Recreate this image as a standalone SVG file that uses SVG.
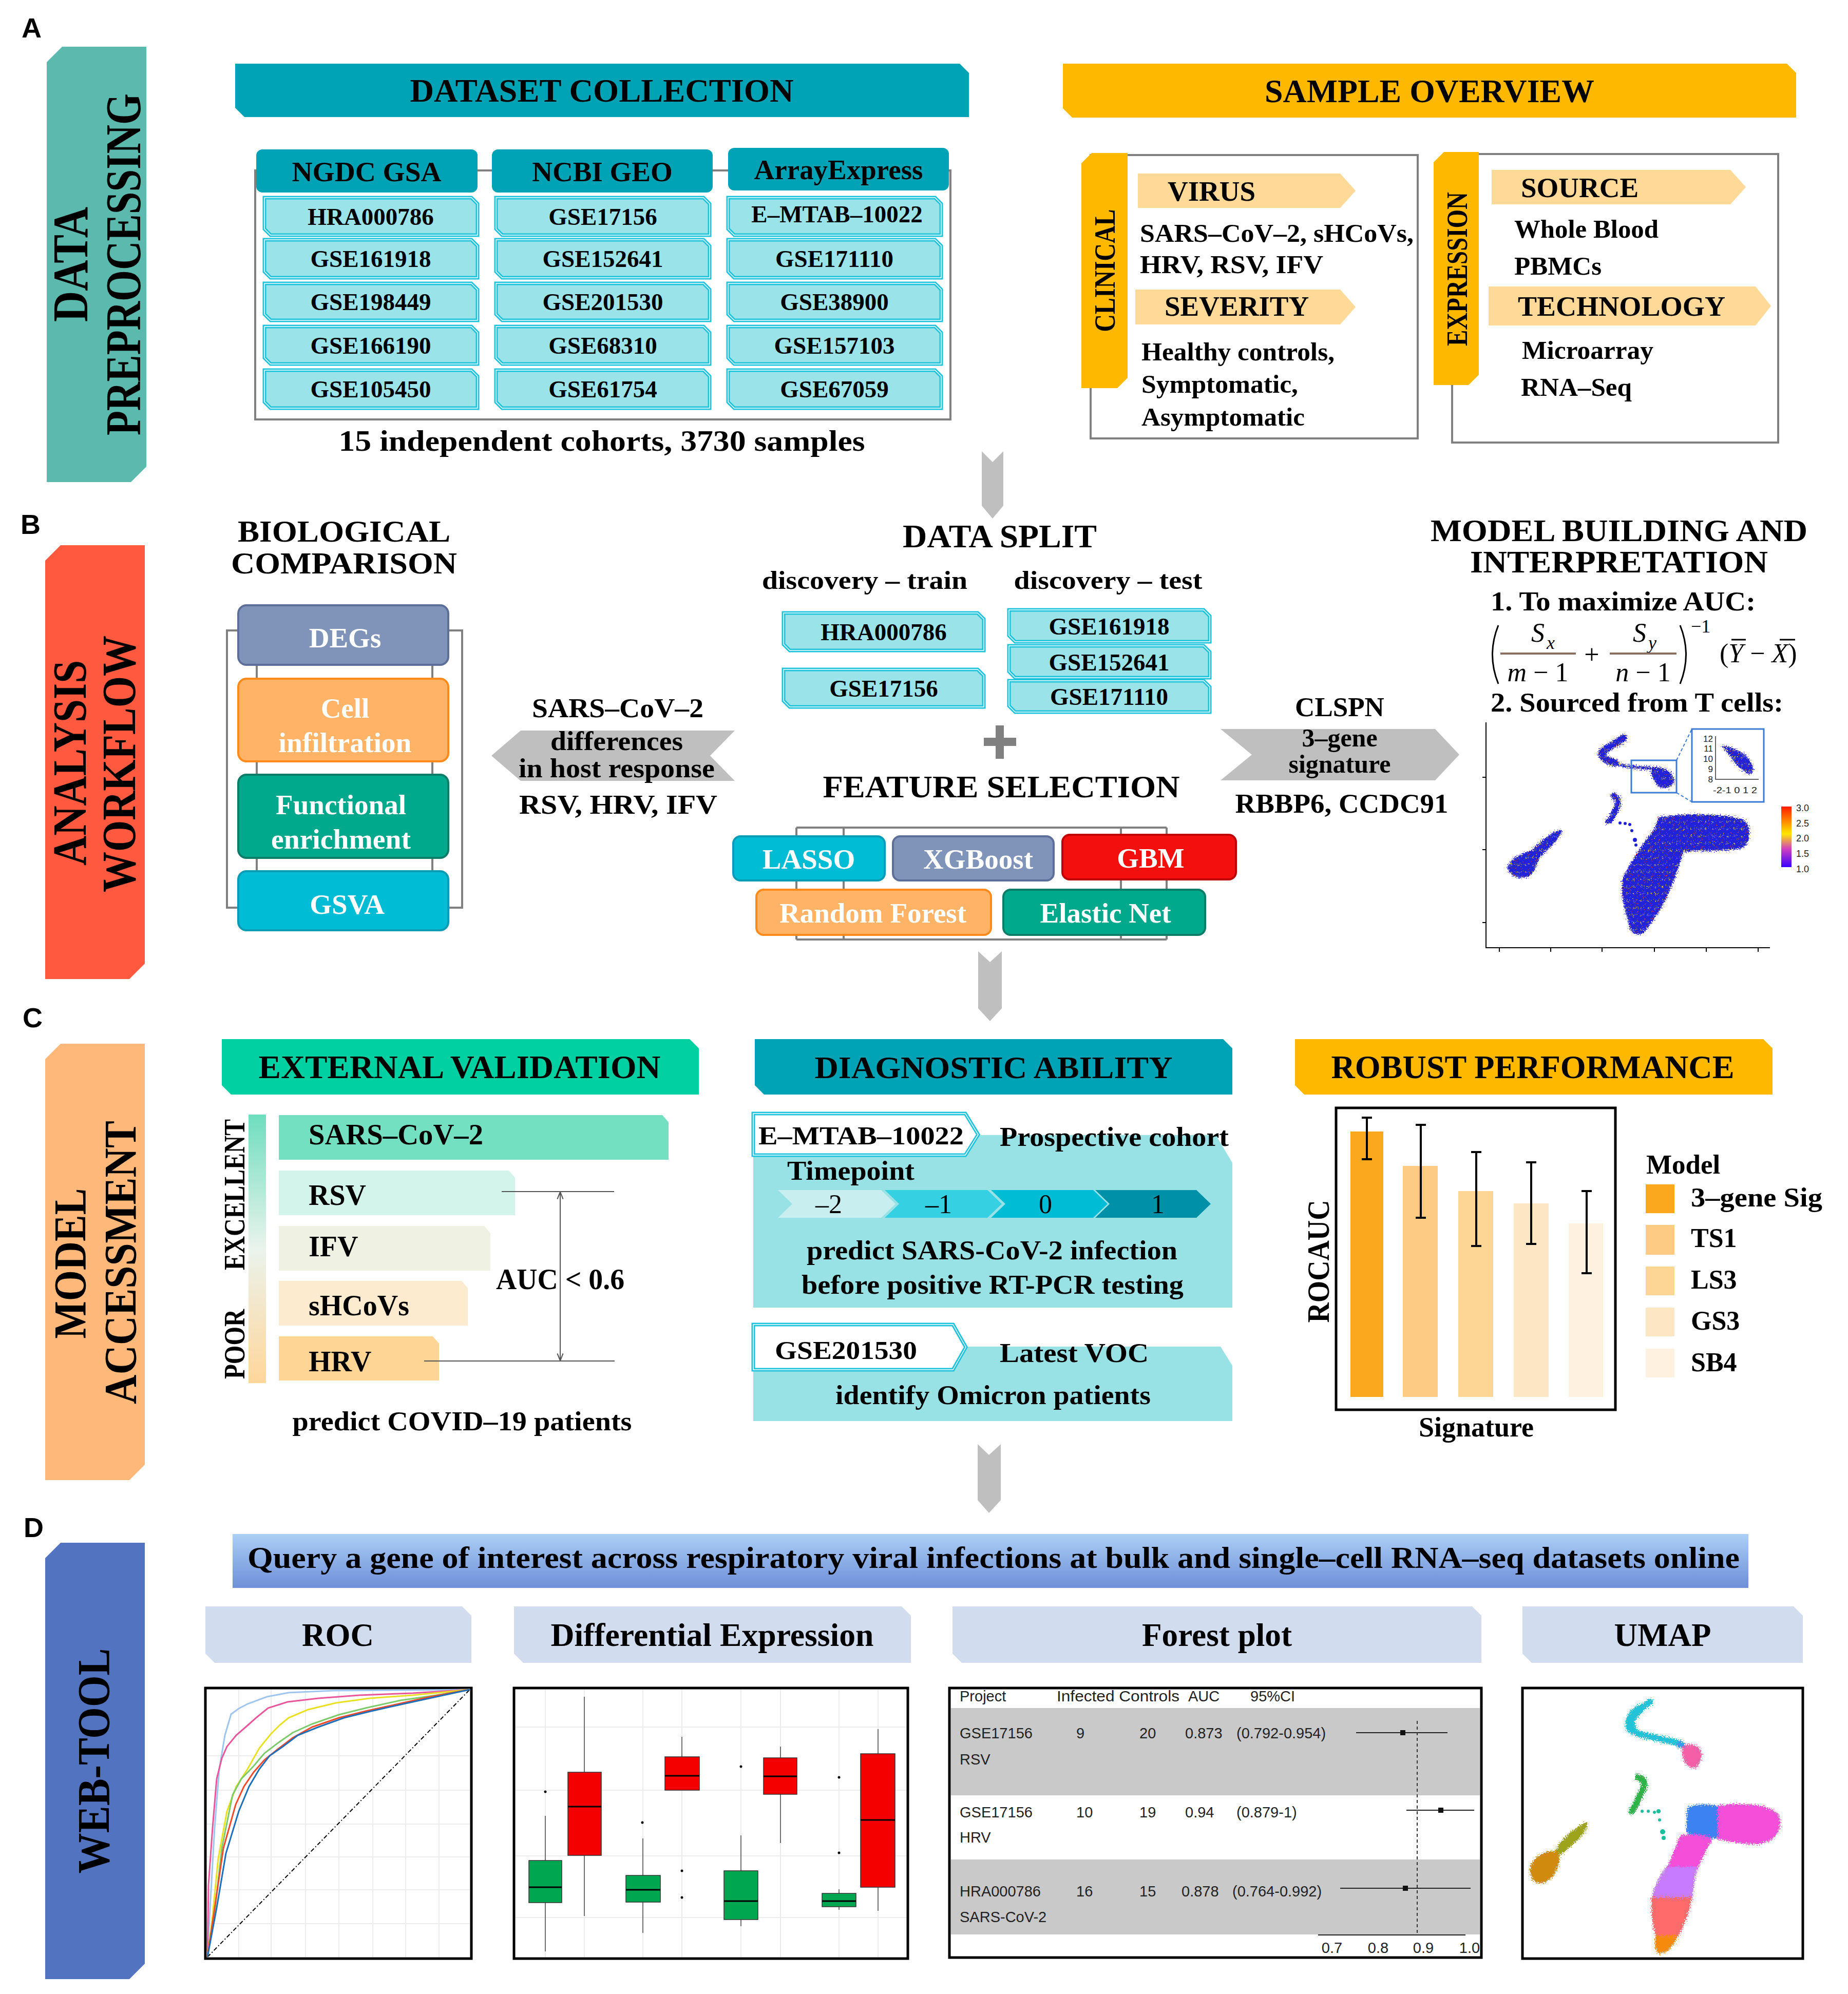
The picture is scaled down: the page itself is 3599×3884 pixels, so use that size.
<svg xmlns="http://www.w3.org/2000/svg" width="3599" height="3884" viewBox="0 0 3599 3884">
<style>
.sb{font-family:"Liberation Serif","Times New Roman",serif;font-weight:bold;fill:#000}
.sn{font-family:"Liberation Serif","Times New Roman",serif;font-weight:normal;fill:#000}
.ss{font-family:"Liberation Sans",Arial,sans-serif;fill:#222}
.lbl{font-family:"Liberation Sans",Arial,sans-serif;font-weight:bold;font-size:54px;fill:#000}
.cell{fill:#9AE3E8;stroke:#1CC3DA;stroke-width:7}
.celli{fill:none;stroke:#fff;stroke-width:1.5}
.frame{fill:#fff;stroke:#808080;stroke-width:4}
.tag{fill:#FFD998}
.gline{stroke:#808080;stroke-width:4;fill:none}
.arr{fill:#BFBFBF}
.wt{fill:#fff}
.grid{stroke:#ECECEC;stroke-width:2}
.plotbox{fill:#fff;stroke:#000;stroke-width:5}
.c{text-anchor:middle}
</style>
<defs>
<linearGradient id="gq" x1="0" y1="0" x2="0" y2="1"><stop offset="0" stop-color="#ABCFF5"/><stop offset="1" stop-color="#6E8ED8"/></linearGradient>
<linearGradient id="gev" x1="0" y1="0" x2="0" y2="1"><stop offset="0" stop-color="#6EDDBE"/><stop offset="0.5" stop-color="#EAF3EC"/><stop offset="1" stop-color="#FFD69B"/></linearGradient>
<linearGradient id="gcb" x1="0" y1="0" x2="0" y2="1"><stop offset="0" stop-color="#FF1A00"/><stop offset="0.25" stop-color="#FF8C00"/><stop offset="0.45" stop-color="#FFE600"/><stop offset="0.7" stop-color="#D040C0"/><stop offset="1" stop-color="#3A00FF"/></linearGradient>
<pattern id="bdots" width="14" height="14" patternUnits="userSpaceOnUse"><rect width="14" height="14" fill="#2020D8"/><circle cx="4" cy="5" r="1.5" fill="#FFE000"/><circle cx="11" cy="11" r="1.1" fill="#FF4020"/><circle cx="10" cy="3" r="0.9" fill="#FFE000"/></pattern>
<filter id="rough" x="-15%" y="-15%" width="130%" height="130%"><feTurbulence type="fractalNoise" baseFrequency="0.5" numOctaves="2" seed="7"/><feDisplacementMap in="SourceGraphic" scale="16" xChannelSelector="R" yChannelSelector="G"/></filter>
<marker id="ah" viewBox="0 0 10 10" refX="9" refY="5" markerWidth="7" markerHeight="7" orient="auto-start-reverse"><path d="M0,1 L10,5 L0,9" fill="none" stroke="#555" stroke-width="1.5"/></marker>
</defs>
<rect width="3599" height="3884" fill="#fff"/>

<!-- Section labels -->
<text class="lbl" x="42" y="73">A</text>
<text class="lbl" x="40" y="1040">B</text>
<text class="lbl" x="44" y="2001">C</text>
<text class="lbl" x="46" y="2994">D</text>

<!-- Side bars -->
<g id="bar-data-preprocessing">
<polygon points="91,121 121,91 285,91 285,909 255,939 91,939" fill="#5CB9AE"/>
<text class="sb c" font-size="98" textLength="224" lengthAdjust="spacingAndGlyphs" transform="translate(170,515) rotate(-90)">DATA</text>
<text class="sb c" font-size="98" textLength="666" lengthAdjust="spacingAndGlyphs" transform="translate(273,515) rotate(-90)">PREPROCESSING</text>
</g>
<g id="bar-analysis-workflow">
<polygon points="88,1092 118,1062 282,1062 282,1877 252,1907 88,1907" fill="#FF5A40"/>
<text class="sb c" font-size="94" textLength="400" lengthAdjust="spacingAndGlyphs" transform="translate(167,1486) rotate(-90)">ANALYSIS</text>
<text class="sb c" font-size="94" textLength="500" lengthAdjust="spacingAndGlyphs" transform="translate(263,1488) rotate(-90)">WORKFLOW</text>
</g>
<g id="bar-model-accessment">
<polygon points="88,2063 118,2033 282,2033 282,2853 252,2883 88,2883" fill="#FDB87A"/>
<text class="sb c" font-size="88" textLength="293" lengthAdjust="spacingAndGlyphs" transform="translate(166,2461) rotate(-90)">MODEL</text>
<text class="sb c" font-size="88" textLength="552" lengthAdjust="spacingAndGlyphs" transform="translate(264,2459) rotate(-90)">ACCESSMENT</text>
</g>
<g id="bar-web-tool">
<polygon points="88,3035 118,3005 282,3005 282,3825 252,3855 88,3855" fill="#5273BF"/>
<text class="sb c" font-size="88" textLength="439" lengthAdjust="spacingAndGlyphs" transform="translate(212,3430) rotate(-90)">WEB-TOOL</text>
</g>

<!-- Connectors -->
<g id="connectors">
<polygon class="arr" points="1912,879 1933,900 1954,879 1954,985 1933,1010 1912,985"/>
<polygon class="arr" points="1905,1853 1928,1874 1951,1853 1951,1964 1928,1989 1905,1964"/>
<polygon class="arr" points="1904,2813 1926,2834 1949,2813 1949,2922 1926,2947 1904,2922"/>
<polygon class="arr" points="957,1472 1014,1423 1431,1423 1383,1472 1431,1521 1014,1521"/>
<polygon class="arr" points="2377,1420 2795,1420 2842,1470 2795,1520 2377,1520 2438,1470"/>
</g>

<!-- A: Dataset collection -->
<g id="dataset-collection">
<polygon points="458,124 1869,124 1887,142 1887,228 476,228 458,210" fill="#00A3B5"/>
<text class="sb c" x="1172" y="198" font-size="63" textLength="747" lengthAdjust="spacingAndGlyphs">DATASET COLLECTION</text>
</g>
<g id="dataset-table">
<rect class="frame" x="497" y="332" width="1354" height="485"/>
<rect x="499" y="291" width="431" height="84" rx="12" fill="#00A3B5"/>
<rect x="958" y="291" width="430" height="84" rx="12" fill="#00A3B5"/>
<rect x="1418" y="288" width="430" height="83" rx="12" fill="#00A3B5"/>
<text class="sb c" x="714" y="353" font-size="55" textLength="291" lengthAdjust="spacingAndGlyphs">NGDC GSA</text>
<text class="sb c" x="1173" y="353" font-size="55">NCBI GEO</text>
<text class="sb c" x="1633" y="349" font-size="55">ArrayExpress</text>
<g font-size="47">
<polygon class="cell" points="515,385 918,385 930,397 930,458 527,458 515,446"/><polygon class="celli" points="515,385 918,385 930,397 930,458 527,458 515,446"/>
<polygon class="cell" points="515,467 918,467 930,479 930,541 527,541 515,529"/><polygon class="celli" points="515,467 918,467 930,479 930,541 527,541 515,529"/>
<polygon class="cell" points="515,552 918,552 930,564 930,624 527,624 515,612"/><polygon class="celli" points="515,552 918,552 930,564 930,624 527,624 515,612"/>
<polygon class="cell" points="515,636 918,636 930,648 930,709 527,709 515,697"/><polygon class="celli" points="515,636 918,636 930,648 930,709 527,709 515,697"/>
<polygon class="cell" points="515,721 918,721 930,733 930,795 527,795 515,783"/><polygon class="celli" points="515,721 918,721 930,733 930,795 527,795 515,783"/>
<polygon class="cell" points="966,385 1370,385 1382,397 1382,458 978,458 966,446"/><polygon class="celli" points="966,385 1370,385 1382,397 1382,458 978,458 966,446"/>
<polygon class="cell" points="966,467 1370,467 1382,479 1382,541 978,541 966,529"/><polygon class="celli" points="966,467 1370,467 1382,479 1382,541 978,541 966,529"/>
<polygon class="cell" points="966,552 1370,552 1382,564 1382,624 978,624 966,612"/><polygon class="celli" points="966,552 1370,552 1382,564 1382,624 978,624 966,612"/>
<polygon class="cell" points="966,636 1370,636 1382,648 1382,709 978,709 966,697"/><polygon class="celli" points="966,636 1370,636 1382,648 1382,709 978,709 966,697"/>
<polygon class="cell" points="966,721 1370,721 1382,733 1382,795 978,795 966,783"/><polygon class="celli" points="966,721 1370,721 1382,733 1382,795 978,795 966,783"/>
<polygon class="cell" points="1418,385 1821,385 1833,397 1833,458 1430,458 1418,446"/><polygon class="celli" points="1418,385 1821,385 1833,397 1833,458 1430,458 1418,446"/>
<polygon class="cell" points="1418,467 1821,467 1833,479 1833,541 1430,541 1418,529"/><polygon class="celli" points="1418,467 1821,467 1833,479 1833,541 1430,541 1418,529"/>
<polygon class="cell" points="1418,552 1821,552 1833,564 1833,624 1430,624 1418,612"/><polygon class="celli" points="1418,552 1821,552 1833,564 1833,624 1430,624 1418,612"/>
<polygon class="cell" points="1418,636 1821,636 1833,648 1833,709 1430,709 1418,697"/><polygon class="celli" points="1418,636 1821,636 1833,648 1833,709 1430,709 1418,697"/>
<polygon class="cell" points="1418,721 1821,721 1833,733 1833,795 1430,795 1418,783"/><polygon class="celli" points="1418,721 1821,721 1833,733 1833,795 1430,795 1418,783"/>
<text class="sb c" x="722" y="438">HRA000786</text>
<text class="sb c" x="722" y="520">GSE161918</text>
<text class="sb c" x="722" y="604">GSE198449</text>
<text class="sb c" x="722" y="689">GSE166190</text>
<text class="sb c" x="722" y="774">GSE105450</text>
<text class="sb c" x="1174" y="438">GSE17156</text>
<text class="sb c" x="1174" y="520">GSE152641</text>
<text class="sb c" x="1174" y="604">GSE201530</text>
<text class="sb c" x="1174" y="689">GSE68310</text>
<text class="sb c" x="1174" y="774">GSE61754</text>
<text class="sb c" x="1630" y="433">E–MTAB–10022</text>
<text class="sb c" x="1625" y="520">GSE171110</text>
<text class="sb c" x="1625" y="604">GSE38900</text>
<text class="sb c" x="1625" y="689">GSE157103</text>
<text class="sb c" x="1625" y="774">GSE67059</text>
</g>
<text class="sb c" x="1172" y="878" font-size="57" textLength="1025" lengthAdjust="spacingAndGlyphs">15 independent cohorts, 3730 samples</text>
</g>

<!-- A: Sample overview -->
<g id="sample-overview">
<polygon points="2070,124 3480,124 3498,142 3498,229 2088,229 2070,211" fill="#FFB800"/>
<text class="sb c" x="2784" y="199" font-size="63" textLength="642" lengthAdjust="spacingAndGlyphs">SAMPLE OVERVIEW</text>
</g>
<g id="clinical">
<rect class="frame" x="2124" y="302" width="637" height="552"/>
<polygon points="2106,318 2126,298 2196,298 2196,736 2176,756 2106,756" fill="#FFB800"/>
<text class="sb c" font-size="57" textLength="239" lengthAdjust="spacingAndGlyphs" transform="translate(2171,527) rotate(-90)">CLINICAL</text>
<polygon class="tag" points="2216,338 2610,338 2640,371.5 2610,405 2216,405"/>
<text class="sb" x="2274" y="391" font-size="55">VIRUS</text>
<text class="sb" x="2220" y="471" font-size="51" textLength="533" lengthAdjust="spacingAndGlyphs">SARS–CoV–2, sHCoVs,</text>
<text class="sb" x="2220" y="532" font-size="51" textLength="357" lengthAdjust="spacingAndGlyphs">HRV, RSV, IFV</text>
<polygon class="tag" points="2211,564 2610,564 2640,598 2610,632 2211,632"/>
<text class="sb" x="2268" y="615" font-size="55">SEVERITY</text>
<text class="sb" x="2223" y="702" font-size="51" textLength="376" lengthAdjust="spacingAndGlyphs">Healthy controls,</text>
<text class="sb" x="2223" y="765" font-size="51" textLength="305" lengthAdjust="spacingAndGlyphs">Symptomatic,</text>
<text class="sb" x="2223" y="829" font-size="51" textLength="318" lengthAdjust="spacingAndGlyphs">Asymptomatic</text>
</g>
<g id="expression">
<rect class="frame" x="2828" y="300" width="635" height="562"/>
<polygon points="2792,316 2812,296 2880,296 2880,730 2860,750 2792,750" fill="#FFB800"/>
<text class="sb c" font-size="57" textLength="300" lengthAdjust="spacingAndGlyphs" transform="translate(2857,524) rotate(-90)">EXPRESSION</text>
<polygon class="tag" points="2905,331 3370,331 3400,364.5 3370,398 2905,398"/>
<text class="sb" x="2962" y="384" font-size="55">SOURCE</text>
<text class="sb" x="2949" y="463" font-size="51" textLength="281" lengthAdjust="spacingAndGlyphs">Whole Blood</text>
<text class="sb" x="2949" y="535" font-size="51" textLength="170" lengthAdjust="spacingAndGlyphs">PBMCs</text>
<polygon class="tag" points="2899,558 3419,558 3449,596 3419,634 2899,634"/>
<text class="sb" x="2956" y="615" font-size="55" textLength="404" lengthAdjust="spacingAndGlyphs">TECHNOLOGY</text>
<text class="sb" x="2964" y="699" font-size="51" textLength="256" lengthAdjust="spacingAndGlyphs">Microarray</text>
<text class="sb" x="2962" y="771" font-size="51" textLength="216" lengthAdjust="spacingAndGlyphs">RNA–Seq</text>
</g>

<!-- B: Biological comparison -->
<g id="biological-comparison">
<text class="sb c" x="670" y="1055" font-size="60" textLength="414" lengthAdjust="spacingAndGlyphs">BIOLOGICAL</text>
<text class="sb c" x="670" y="1117" font-size="60" textLength="440" lengthAdjust="spacingAndGlyphs">COMPARISON</text>
<rect class="gline" x="442" y="1228" width="458" height="540"/>
<line class="gline" x1="500" y1="1295" x2="500" y2="1697"/>
<line class="gline" x1="842" y1="1295" x2="842" y2="1697"/>
</g>
<g id="degs"><rect x="464" y="1179" width="409" height="116" rx="16" fill="#8094BA" stroke="#5D6F98" stroke-width="4"/><text class="sb c wt" x="672" y="1261" font-size="55">DEGs</text></g>
<g id="cell-infiltration"><rect x="464" y="1322" width="409" height="161" rx="16" fill="#FFB366" stroke="#FF8A1C" stroke-width="4"/><text class="sb c wt" x="672" y="1398" font-size="55">Cell</text><text class="sb c wt" x="672" y="1465" font-size="55" textLength="259" lengthAdjust="spacingAndGlyphs">infiltration</text></g>
<g id="functional-enrichment"><rect x="464" y="1509" width="409" height="162" rx="16" fill="#00A88C" stroke="#0B7D69" stroke-width="4"/><text class="sb c wt" x="664" y="1586" font-size="55" textLength="254" lengthAdjust="spacingAndGlyphs">Functional</text><text class="sb c wt" x="664" y="1653" font-size="55" textLength="272" lengthAdjust="spacingAndGlyphs">enrichment</text></g>
<g id="gsva"><rect x="464" y="1697" width="409" height="115" rx="16" fill="#00BCD4" stroke="#0A9CB4" stroke-width="4"/><text class="sb c wt" x="676" y="1780" font-size="55">GSVA</text></g>
<g id="differences-label">
<text class="sb c" x="1203" y="1397" font-size="53" textLength="334" lengthAdjust="spacingAndGlyphs">SARS–CoV–2</text>
<text class="sb c" x="1201" y="1461" font-size="53" textLength="258" lengthAdjust="spacingAndGlyphs">differences</text>
<text class="sb c" x="1201" y="1514" font-size="53" textLength="382" lengthAdjust="spacingAndGlyphs">in host response</text>
<text class="sb c" x="1204" y="1585" font-size="53" textLength="386" lengthAdjust="spacingAndGlyphs">RSV, HRV, IFV</text>
</g>

<!-- B: Data split -->
<g id="data-split">
<text class="sb c" x="1947" y="1066" font-size="63" textLength="378" lengthAdjust="spacingAndGlyphs">DATA SPLIT</text>
<text class="sb c" x="1684" y="1147" font-size="51" textLength="400" lengthAdjust="spacingAndGlyphs">discovery – train</text>
<text class="sb c" x="2158" y="1147" font-size="51" textLength="367" lengthAdjust="spacingAndGlyphs">discovery – test</text>
<g font-size="47">
<polygon class="cell" points="1526,1194 1904,1194 1916,1206 1916,1267 1538,1267 1526,1255"/><polygon class="celli" points="1526,1194 1904,1194 1916,1206 1916,1267 1538,1267 1526,1255"/>
<polygon class="cell" points="1526,1304 1904,1304 1916,1316 1916,1377 1538,1377 1526,1365"/><polygon class="celli" points="1526,1304 1904,1304 1916,1316 1916,1377 1538,1377 1526,1365"/>
<polygon class="cell" points="1965,1188 2344,1188 2356,1200 2356,1250 1977,1250 1965,1238"/><polygon class="celli" points="1965,1188 2344,1188 2356,1200 2356,1250 1977,1250 1965,1238"/>
<polygon class="cell" points="1965,1258 2344,1258 2356,1270 2356,1320 1977,1320 1965,1308"/><polygon class="celli" points="1965,1258 2344,1258 2356,1270 2356,1320 1977,1320 1965,1308"/>
<polygon class="cell" points="1965,1326 2344,1326 2356,1338 2356,1387 1977,1387 1965,1375"/><polygon class="celli" points="1965,1326 2344,1326 2356,1338 2356,1387 1977,1387 1965,1375"/>
<text class="sb c" x="1721" y="1247">HRA000786</text>
<text class="sb c" x="1721" y="1357">GSE17156</text>
<text class="sb c" x="2160" y="1236">GSE161918</text>
<text class="sb c" x="2160" y="1306">GSE152641</text>
<text class="sb c" x="2160" y="1373">GSE171110</text>
</g>
<path d="M1939,1413 h16 v24 h24 v16 h-24 v25 h-16 v-25 h-23 v-16 h23 z" fill="#808080"/>
</g>

<!-- B: Feature selection -->
<g id="feature-selection">
<text class="sb c" x="1950" y="1553" font-size="62" textLength="695" lengthAdjust="spacingAndGlyphs">FEATURE SELECTION</text>
<path class="gline" d="M1551,1612 H2272 M1551,1830 H2272 M1551,1612 V1830 M1643,1612 V1830 M2183,1612 V1830 M2272,1612 V1830"/>
</g>
<g id="lasso"><rect x="1428" y="1629" width="295" height="86" rx="14" fill="#00BCD4" stroke="#0A9CB4" stroke-width="4"/><text class="sb c wt" x="1575" y="1692" font-size="55">LASSO</text></g>
<g id="xgboost"><rect x="1739" y="1629" width="313" height="86" rx="14" fill="#8094BA" stroke="#5D6F98" stroke-width="4"/><text class="sb c wt" x="1905" y="1692" font-size="55">XGBoost</text></g>
<g id="gbm"><rect x="2069" y="1626" width="338" height="87" rx="14" fill="#F40F0F" stroke="#C00000" stroke-width="4"/><text class="sb c wt" x="2241" y="1690" font-size="55">GBM</text></g>
<g id="random-forest"><rect x="1473" y="1733" width="457" height="88" rx="14" fill="#FFB366" stroke="#FF8A1C" stroke-width="4"/><text class="sb c wt" x="1700" y="1797" font-size="55">Random Forest</text></g>
<g id="elastic-net"><rect x="1954" y="1733" width="393" height="88" rx="14" fill="#00A88C" stroke="#0B7D69" stroke-width="4"/><text class="sb c wt" x="2153" y="1797" font-size="55">Elastic Net</text></g>
<g id="signature-label">
<text class="sb c" x="2609" y="1395" font-size="53">CLSPN</text>
<text class="sb c" x="2609" y="1454" font-size="50">3–gene</text>
<text class="sb c" x="2609" y="1505" font-size="50">signature</text>
<text class="sb c" x="2613" y="1583" font-size="53" textLength="415" lengthAdjust="spacingAndGlyphs">RBBP6, CCDC91</text>
</g>

<!-- B: Model building -->
<g id="model-building">
<text class="sb c" x="3153" y="1054" font-size="62" textLength="734" lengthAdjust="spacingAndGlyphs">MODEL BUILDING AND</text>
<text class="sb c" x="3153" y="1115" font-size="62" textLength="580" lengthAdjust="spacingAndGlyphs">INTERPRETATION</text>
<text class="sb" x="2903" y="1189" font-size="53" textLength="516" lengthAdjust="spacingAndGlyphs">1. To maximize AUC:</text>
<g class="sn" font-size="52">
<path d="M2918,1218 Q2895,1275 2918,1332" fill="none" stroke="#000" stroke-width="3"/>
<path d="M3272,1218 Q3295,1275 3272,1332" fill="none" stroke="#000" stroke-width="3"/>
<text x="2982" y="1250" font-style="italic">S</text><text x="3012" y="1264" font-size="36" font-style="italic">x</text>
<line x1="2922" y1="1273" x2="3069" y2="1273" stroke="#8C6E63" stroke-width="4"/>
<text class="c" x="2995" y="1327"><tspan font-style="italic">m</tspan> − 1</text>
<text class="c" x="3100" y="1292">+</text>
<text x="3180" y="1250" font-style="italic">S</text><text x="3210" y="1264" font-size="36" font-style="italic">y</text>
<line x1="3135" y1="1273" x2="3265" y2="1273" stroke="#8C6E63" stroke-width="4"/>
<text class="c" x="3200" y="1327"><tspan font-style="italic">n</tspan> − 1</text>
<text x="3293" y="1232" font-size="36">−1</text>
<text x="3349" y="1290">(<tspan font-style="italic">Y</tspan> − <tspan font-style="italic">X</tspan>)</text>
<line x1="3372" y1="1246" x2="3400" y2="1246" stroke="#000" stroke-width="3"/>
<line x1="3466" y1="1246" x2="3496" y2="1246" stroke="#000" stroke-width="3"/>
</g>
<text class="sb" x="2903" y="1386" font-size="53" textLength="570" lengthAdjust="spacingAndGlyphs">2. Sourced from T cells:</text>
</g>
<g id="tcell-umap">
<path d="M2894,1407 V1846 H3447" fill="none" stroke="#000" stroke-width="2"/>
<path d="M2920,1846 v8 M3020,1846 v8 M3120,1846 v8 M3222,1846 v8 M3323,1846 v8 M3424,1846 v8 M2894,1514 h-7 M2894,1655 h-7 M2894,1797 h-7" stroke="#000" stroke-width="2"/>
<g filter="url(#rough)">
<path d="M3162,1437 C3150,1448 3128,1455 3120,1466 C3118,1476 3132,1482 3145,1486" fill="none" stroke="url(#bdots)" stroke-width="14" stroke-linecap="round"/>
<path d="M3145,1488 C3165,1492 3185,1496 3215,1496" fill="none" stroke="url(#bdots)" stroke-width="5" stroke-linecap="round"/>
<path d="M3215,1494 C3240,1492 3262,1505 3260,1522 C3256,1535 3240,1540 3228,1530 C3220,1520 3215,1508 3215,1494 Z" fill="url(#bdots)"/>
<path d="M3142,1550 C3155,1555 3152,1570 3145,1580 C3140,1590 3138,1598 3132,1600" fill="none" stroke="url(#bdots)" stroke-width="11" stroke-linecap="round"/>
<path d="M3041,1616 C3045,1626 3020,1650 3000,1668 C2992,1680 2992,1700 2975,1708 C2955,1714 2936,1702 2937,1690 C2939,1674 2960,1664 2983,1656 C3000,1640 3020,1620 3041,1616 Z" fill="url(#bdots)"/>
<path d="M3230,1592 C3290,1582 3360,1586 3395,1596 C3412,1606 3412,1645 3390,1653 C3350,1660 3300,1655 3278,1660 C3265,1700 3250,1760 3200,1818 C3185,1824 3172,1815 3172,1797 C3162,1765 3156,1738 3160,1712 C3175,1680 3200,1642 3222,1615 Z" fill="url(#bdots)"/>
<path d="M3352,1452 C3375,1455 3400,1465 3412,1488 C3418,1505 3410,1512 3400,1505 C3390,1495 3378,1490 3372,1475 Z" fill="url(#bdots)"/>
</g>
<g fill="#2020D8"><circle cx="3155" cy="1603" r="3"/><circle cx="3165" cy="1604" r="3"/><circle cx="3174" cy="1606" r="3"/><circle cx="3178" cy="1618" r="3"/><circle cx="3184" cy="1636" r="4"/><circle cx="3186" cy="1646" r="3"/></g>
<rect x="3177" y="1481" width="88" height="63" fill="none" stroke="#3A7BD5" stroke-width="3"/>
<rect x="3295" y="1420" width="140" height="142" fill="none" stroke="#3A7BD5" stroke-width="3"/>
<path d="M3265,1481 L3295,1420 M3265,1544 L3295,1562" stroke="#3A7BD5" stroke-width="2" stroke-dasharray="6,4"/>
<path d="M3341,1434 V1518 H3425" fill="none" stroke="#333" stroke-width="1.5"/>
<g class="ss" font-size="17" text-anchor="end"><text x="3336" y="1445">12</text><text x="3336" y="1464">11</text><text x="3336" y="1484">10</text><text x="3336" y="1504">9</text><text x="3336" y="1524">8</text></g>
<text class="ss" x="3336" y="1545" font-size="17" textLength="86" lengthAdjust="spacingAndGlyphs">-2-1 0 1 2</text>
<rect x="3469" y="1571" width="20" height="118" fill="url(#gcb)"/>
<g class="ss" font-size="18"><text x="3498" y="1580">3.0</text><text x="3498" y="1610">2.5</text><text x="3498" y="1639">2.0</text><text x="3498" y="1669">1.5</text><text x="3498" y="1699">1.0</text></g>
</g>

<!-- C: External validation -->
<g id="external-validation">
<polygon points="432,2024 1343,2024 1361,2042 1361,2132 450,2132 432,2114" fill="#00D0A2"/>
<text class="sb c" x="895" y="2100" font-size="63" textLength="783" lengthAdjust="spacingAndGlyphs">EXTERNAL VALIDATION</text>
<rect x="484" y="2171" width="34" height="523" fill="url(#gev)"/>
<text class="sb c" font-size="56" textLength="294" lengthAdjust="spacingAndGlyphs" transform="translate(476,2327) rotate(-90)">EXCELLENT</text>
<text class="sb c" font-size="56" textLength="136" lengthAdjust="spacingAndGlyphs" transform="translate(476,2618) rotate(-90)">POOR</text>
<polygon points="543,2172 1290,2172 1302,2186 1302,2259 543,2259" fill="#73E0C1"/>
<polygon points="543,2280 991,2280 1003,2294 1003,2367 543,2367" fill="#D3F4EA"/>
<polygon points="543,2388 943,2388 955,2402 955,2475 543,2475" fill="#EFF1E2"/>
<polygon points="543,2495 899,2495 911,2509 911,2582 543,2582" fill="#FDEBD0"/>
<polygon points="543,2603 843,2603 855,2617 855,2689 543,2689" fill="#FFD595"/>
<g class="sb" font-size="56">
<text x="601" y="2229" textLength="340" lengthAdjust="spacingAndGlyphs">SARS–CoV–2</text>
<text x="601" y="2347">RSV</text>
<text x="601" y="2447">IFV</text>
<text x="601" y="2562">sHCoVs</text>
<text x="601" y="2671">HRV</text>
</g>
<path d="M977,2321 H1196 M826,2651 H1197" stroke="#555" stroke-width="2"/>
<line x1="1091" y1="2323" x2="1091" y2="2649" stroke="#555" stroke-width="2" marker-start="url(#ah)" marker-end="url(#ah)"/>
<text class="sb c" x="1091" y="2511" font-size="56" textLength="250" lengthAdjust="spacingAndGlyphs">AUC &lt; 0.6</text>
<text class="sb c" x="900" y="2786" font-size="53" textLength="661" lengthAdjust="spacingAndGlyphs">predict COVID–19 patients</text>
</g>

<!-- C: Diagnostic ability -->
<g id="diagnostic-ability">
<polygon points="1470,2024 2382,2024 2400,2042 2400,2132 1488,2132 1470,2114" fill="#00A3B5"/>
<text class="sb c" x="1935" y="2100" font-size="62" textLength="697" lengthAdjust="spacingAndGlyphs">DIAGNOSTIC ABILITY</text>
</g>
<g id="prospective-cohort">
<path d="M1467,2211 L2368,2211 L2400,2265 L2400,2547 L1467,2547 Z" fill="#98E2E6"/>
<polygon points="1467,2169 1880,2169 1905,2210 1880,2250 1467,2250" fill="#fff" stroke="#1CC3DA" stroke-width="7"/>
<polygon points="1467,2169 1880,2169 1905,2210 1880,2250 1467,2250" fill="none" stroke="#fff" stroke-width="1.5"/>
<text class="sb" x="1477" y="2229" font-size="50" textLength="400" lengthAdjust="spacingAndGlyphs">E–MTAB–10022</text>
<text class="sb" x="1947" y="2232" font-size="53" textLength="446" lengthAdjust="spacingAndGlyphs">Prospective cohort</text>
<text class="sb" x="1533" y="2298" font-size="53" textLength="248" lengthAdjust="spacingAndGlyphs">Timepoint</text>
<polygon points="1515,2318 1716,2318 1744,2345 1716,2372 1515,2372 1543,2345" fill="#C8EEF0"/>
<polygon points="1723,2318 1923,2318 1951,2345 1923,2372 1723,2372 1751,2345" fill="#36D0E3"/>
<polygon points="1930,2318 2129,2318 2157,2345 2129,2372 1930,2372 1958,2345" fill="#00BCD4"/>
<polygon points="2133,2318 2330,2318 2358,2345 2330,2372 2133,2372 2161,2345" fill="#0090A8"/>
<g class="sn c" font-size="52"><text x="1614" y="2363">–2</text><text x="1828" y="2363">–1</text><text x="2036" y="2363">0</text><text x="2255" y="2363">1</text></g>
<text class="sb c" x="1932" y="2453" font-size="53" textLength="722" lengthAdjust="spacingAndGlyphs">predict SARS-CoV-2 infection</text>
<text class="sb c" x="1933" y="2520" font-size="53" textLength="744" lengthAdjust="spacingAndGlyphs">before positive RT-PCR testing</text>
</g>
<g id="latest-voc">
<path d="M1467,2623 L2377,2623 L2400,2660 L2400,2768 L1467,2768 Z" fill="#98E2E6"/>
<polygon points="1467,2580 1856,2580 1881,2624 1856,2668 1467,2668" fill="#fff" stroke="#1CC3DA" stroke-width="7"/>
<polygon points="1467,2580 1856,2580 1881,2624 1856,2668 1467,2668" fill="none" stroke="#fff" stroke-width="1.5"/>
<text class="sb" x="1509" y="2647" font-size="50" textLength="277" lengthAdjust="spacingAndGlyphs">GSE201530</text>
<text class="sb" x="1947" y="2653" font-size="53" textLength="290" lengthAdjust="spacingAndGlyphs">Latest VOC</text>
<text class="sb c" x="1934" y="2735" font-size="53" textLength="614" lengthAdjust="spacingAndGlyphs">identify Omicron patients</text>
</g>

<!-- C: Robust performance -->
<g id="robust-performance">
<polygon points="2522,2024 3434,2024 3452,2042 3452,2132 2540,2132 2522,2114" fill="#FFB800"/>
<text class="sb c" x="2985" y="2100" font-size="63" textLength="785" lengthAdjust="spacingAndGlyphs">ROBUST PERFORMANCE</text>
<rect x="2602" y="2158" width="544" height="588" fill="#fff" stroke="#000" stroke-width="5"/>
<rect x="2630" y="2204" width="64" height="517" fill="#FBA81F"/>
<rect x="2732" y="2271" width="68" height="450" fill="#FDCB84"/>
<rect x="2840" y="2320" width="68" height="401" fill="#FDD594"/>
<rect x="2948" y="2344" width="68" height="377" fill="#FDE6C3"/>
<rect x="3055" y="2383" width="67" height="338" fill="#FEF1E0"/>
<path d="M2662,2177 V2258 M2652,2177 h20 M2652,2258 h20 M2767,2191 V2372 M2757,2191 h20 M2757,2372 h20 M2875,2244 V2427 M2865,2244 h20 M2865,2427 h20 M2982,2264 V2423 M2972,2264 h20 M2972,2423 h20 M3090,2320 V2480 M3080,2320 h20 M3080,2480 h20" stroke="#000" stroke-width="4" fill="none"/>
<text class="sb c" font-size="62" textLength="239" lengthAdjust="spacingAndGlyphs" transform="translate(2588,2457) rotate(-90)">ROCAUC</text>
<text class="sb c" x="2875" y="2798" font-size="54">Signature</text>
<text class="sb" x="3206" y="2286" font-size="53">Model</text>
<rect x="3205" y="2307" width="56" height="56" fill="#FBA81F"/>
<rect x="3205" y="2386" width="56" height="58" fill="#FDCB84"/>
<rect x="3205" y="2467" width="56" height="56" fill="#FDD594"/>
<rect x="3205" y="2547" width="56" height="56" fill="#FDE6C3"/>
<rect x="3205" y="2627" width="56" height="56" fill="#FEF1E0"/>
<g class="sb" font-size="52"><text x="3293" y="2350" textLength="256" lengthAdjust="spacingAndGlyphs">3–gene Sig</text><text x="3293" y="2429">TS1</text><text x="3293" y="2510">LS3</text><text x="3293" y="2590">GS3</text><text x="3293" y="2671">SB4</text></g>
</g>

<!-- D: Web tool -->
<g id="query-banner">
<rect x="453" y="2988" width="2952" height="105" fill="url(#gq)"/>
<text class="sb c" x="1935" y="3054" font-size="60" textLength="2906" lengthAdjust="spacingAndGlyphs">Query a gene of interest across respiratory viral infections at bulk and single–cell RNA–seq datasets online</text>
</g>
<g id="roc">
<polygon points="400,3129 900,3129 918,3147 918,3239 418,3239 400,3221" fill="#D2DCEF"/>
<text class="sb c" x="658" y="3206" font-size="63">ROC</text>
<rect class="plotbox" x="400" y="3288" width="518" height="527"/>
<path class="grid" d="M465,3291 V3812 M528,3291 V3812 M595,3291 V3812 M660,3291 V3812 M726,3291 V3812 M790,3291 V3812 M855,3291 V3812 M403,3420 H915 M403,3487 H915 M403,3553 H915 M403,3617 H915 M403,3681 H915 M403,3747 H915"/>
<line x1="404" y1="3812" x2="915" y2="3291" stroke="#000" stroke-width="2" stroke-dasharray="8,4,2,4"/>
<g fill="none" stroke-width="3">
<path stroke="#9EC5EE" d="M404,3807 L410,3700 L418,3560 L427,3446 L438,3380 L450,3339 L465,3328 L482,3319 L520,3305 L562,3297 L650,3293 L804,3292 L915,3291"/>
<path stroke="#E8559A" d="M404,3812 L406,3672 L414,3560 L422,3465 L432,3425 L442,3402 L460,3380 L482,3361 L500,3345 L522,3327 L560,3315 L620,3308 L700,3302 L804,3298 L915,3291"/>
<path stroke="#E8E020" d="M404,3812 L413,3741 L425,3620 L442,3528 L460,3480 L482,3446 L505,3405 L528,3377 L545,3360 L562,3346 L600,3330 L654,3317 L720,3308 L804,3302 L915,3291"/>
<path stroke="#7CCB6A" d="M404,3812 L419,3716 L432,3600 L453,3496 L470,3465 L494,3440 L515,3415 L540,3396 L570,3375 L608,3358 L660,3340 L712,3327 L780,3312 L850,3302 L915,3291"/>
<path stroke="#F04A2A" d="M404,3812 L419,3710 L435,3600 L459,3515 L475,3480 L494,3452 L515,3428 L540,3408 L570,3385 L608,3364 L660,3346 L712,3333 L780,3318 L838,3305 L915,3291"/>
<path stroke="#1F6FB8" d="M404,3812 L422,3716 L440,3610 L465,3528 L485,3480 L505,3446 L525,3420 L551,3402 L580,3380 L620,3364 L670,3346 L723,3333 L790,3318 L850,3305 L915,3291"/>
</g>
</g>
<g id="differential-expression">
<polygon points="1001,3129 1756,3129 1774,3147 1774,3239 1019,3239 1001,3221" fill="#D2DCEF"/>
<text class="sb c" x="1387" y="3206" font-size="63" textLength="629" lengthAdjust="spacingAndGlyphs">Differential Expression</text>
<rect class="plotbox" x="1001" y="3288" width="767" height="527"/>
<path class="grid" d="M1004,3364 H1765 M1004,3487 H1765 M1004,3615 H1765 M1004,3735 H1765 M1062,3291 V3812 M1138,3291 V3812 M1252,3291 V3812 M1328,3291 V3812 M1443,3291 V3812 M1520,3291 V3812 M1634,3291 V3812 M1710,3291 V3812"/>
<path d="M1062,3537 V3801 M1138,3305 V3732 M1252,3581 V3765 M1328,3383 V3487 M1443,3575 V3752 M1520,3402 V3590 M1634,3680 V3720 M1710,3368 V3722" stroke="#444" stroke-width="1.5"/>
<g stroke="#333" stroke-width="1.5">
<rect x="1030" y="3624" width="64" height="82" fill="#00A650"/>
<rect x="1106" y="3452" width="65" height="162" fill="#F50000"/>
<rect x="1219" y="3653" width="67" height="52" fill="#00A650"/>
<rect x="1295" y="3422" width="67" height="65" fill="#F50000"/>
<rect x="1410" y="3644" width="66" height="95" fill="#00A650"/>
<rect x="1487" y="3424" width="65" height="71" fill="#F50000"/>
<rect x="1601" y="3688" width="66" height="26" fill="#00A650"/>
<rect x="1676" y="3416" width="67" height="260" fill="#F50000"/>
</g>
<path d="M1030,3676 h64 M1106,3519 h65 M1219,3681 h67 M1295,3459 h67 M1410,3703 h66 M1487,3460 h65 M1601,3703 h66 M1676,3545 h67" stroke="#000" stroke-width="3"/>
<g fill="#000"><circle cx="1062" cy="3490" r="2.5"/><circle cx="1251" cy="3550" r="2.5"/><circle cx="1328" cy="3644" r="2.5"/><circle cx="1328" cy="3696" r="2.5"/><circle cx="1443" cy="3441" r="2.5"/><circle cx="1634" cy="3462" r="2.5"/><circle cx="1634" cy="3609" r="2.5"/></g>
</g>
<g id="forest-plot">
<polygon points="1855,3129 2867,3129 2885,3147 2885,3239 1873,3239 1855,3221" fill="#D2DCEF"/>
<text class="sb c" x="2370" y="3206" font-size="63" textLength="292" lengthAdjust="spacingAndGlyphs">Forest plot</text>
<rect class="plotbox" x="1849" y="3288" width="1036" height="525"/>
<rect x="1852" y="3327" width="1030" height="170" fill="#C9C9C9"/>
<rect x="1852" y="3622" width="1030" height="146" fill="#C9C9C9"/>
<g class="ss" font-size="29">
<text x="1869" y="3314">Project</text><text x="2058" y="3314" textLength="239" lengthAdjust="spacingAndGlyphs">Infected Controls</text><text x="2314" y="3314">AUC</text><text x="2435" y="3314">95%CI</text>
<text x="1869" y="3386">GSE17156</text><text x="1869" y="3437">RSV</text><text x="2096" y="3386">9</text><text x="2219" y="3386">20</text><text x="2308" y="3386">0.873</text><text x="2408" y="3386">(0.792-0.954)</text>
<text x="1869" y="3540">GSE17156</text><text x="1869" y="3589">HRV</text><text x="2096" y="3540">10</text><text x="2219" y="3540">19</text><text x="2308" y="3540">0.94</text><text x="2408" y="3540">(0.879-1)</text>
<text x="1869" y="3694">HRA000786</text><text x="1869" y="3744">SARS-CoV-2</text><text x="2096" y="3694">16</text><text x="2219" y="3694">15</text><text x="2301" y="3694">0.878</text><text x="2400" y="3694">(0.764-0.992)</text>
</g>
<path d="M2641,3375 H2819 M2739,3526 H2871 M2610,3678 H2864" stroke="#222" stroke-width="2"/>
<g fill="#111"><rect x="2727" y="3370" width="10" height="10"/><rect x="2801" y="3521" width="10" height="10"/><rect x="2732" y="3673" width="10" height="10"/></g>
<line x1="2760" y1="3352" x2="2760" y2="3768" stroke="#333" stroke-width="2" stroke-dasharray="6,5"/>
<line x1="2567" y1="3769" x2="2854" y2="3769" stroke="#222" stroke-width="2"/>
<g class="ss c" font-size="29"><text x="2594" y="3804">0.7</text><text x="2684" y="3804">0.8</text><text x="2772" y="3804">0.9</text><text x="2862" y="3804">1.0</text></g>
</g>
<g id="umap">
<polygon points="2965,3129 3493,3129 3511,3147 3511,3239 2983,3239 2965,3221" fill="#D2DCEF"/>
<text class="sb c" x="3238" y="3206" font-size="63">UMAP</text>
<rect class="plotbox" x="2965" y="3288" width="546" height="527"/>
<g filter="url(#rough)">
<path d="M3213,3315 C3195,3330 3168,3340 3172,3362 C3178,3378 3200,3378 3225,3385 C3245,3390 3260,3392 3275,3398" fill="none" stroke="#22C3D8" stroke-width="12" stroke-linecap="round"/>
<path d="M3192,3330 C3180,3340 3170,3350 3178,3368" fill="none" stroke="#22C3D8" stroke-width="18" stroke-linecap="round"/>
<path d="M3276,3400 C3295,3395 3315,3400 3314,3420 C3312,3435 3305,3445 3295,3444 C3282,3440 3275,3425 3276,3400 Z" fill="#F45FA8"/>
<circle cx="3272" cy="3398" r="7" fill="#3C9AE8"/>
<path d="M3190,3462 C3205,3465 3204,3480 3196,3492 C3190,3505 3185,3518 3178,3528" fill="none" stroke="#2DB34A" stroke-width="12" stroke-linecap="round"/>
<path d="M3090,3549 C3095,3560 3075,3585 3055,3600 C3045,3610 3038,3615 3028,3612 C3030,3595 3055,3565 3090,3549 Z" fill="#9DA41C"/>
<path d="M3035,3606 C3042,3625 3030,3660 3005,3668 C2985,3672 2975,3650 2982,3632 C2992,3612 3015,3602 3035,3606 Z" fill="#D08A0A"/>
<path d="M3343,3518 C3385,3510 3455,3512 3466,3540 C3472,3570 3450,3595 3410,3592 C3380,3590 3355,3585 3335,3578 Z" fill="#F54FD9"/>
<path d="M3286,3522 C3300,3512 3335,3515 3345,3518 L3345,3580 C3320,3582 3298,3578 3284,3568 Z" fill="#3C82F2"/>
<path d="M3272,3575 C3300,3570 3330,3575 3335,3582 C3322,3605 3312,3625 3306,3640 L3245,3640 C3255,3618 3265,3595 3272,3575 Z" fill="#F54FD9"/>
<path d="M3245,3636 L3306,3636 C3300,3660 3298,3680 3295,3700 L3216,3700 C3220,3680 3230,3656 3245,3636 Z" fill="#C77CFF"/>
<path d="M3216,3696 L3295,3696 C3290,3725 3280,3750 3268,3772 L3225,3772 C3218,3750 3215,3720 3216,3696 Z" fill="#FF6B6B"/>
<path d="M3225,3770 L3268,3770 C3260,3790 3245,3806 3232,3806 C3222,3800 3222,3785 3225,3770 Z" fill="#F58A10"/>
</g>
<g fill="#1BBF9E"><circle cx="3198" cy="3528" r="3"/><circle cx="3210" cy="3528" r="3"/><circle cx="3222" cy="3530" r="3"/><circle cx="3230" cy="3528" r="4"/><circle cx="3232" cy="3545" r="3"/><circle cx="3238" cy="3568" r="5"/><circle cx="3240" cy="3580" r="4"/></g>
</g>
</svg>
